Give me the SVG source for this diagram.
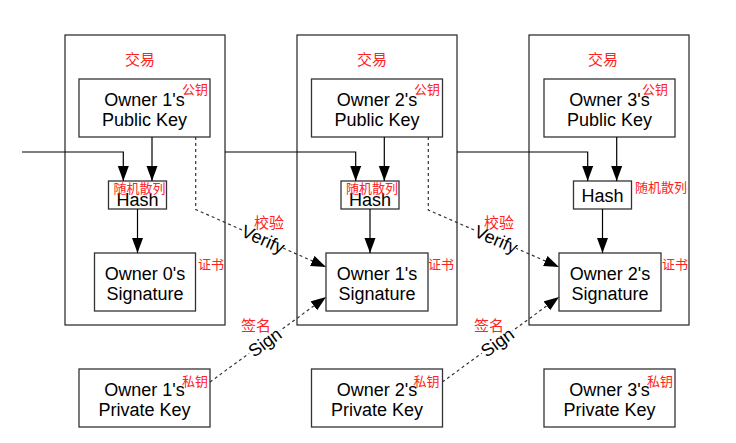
<svg xmlns="http://www.w3.org/2000/svg" width="736" height="443" viewBox="0 0 736 443">
<style>
.tx{fill:#fff;stroke:#333;stroke-width:1.3}
.bx{fill:#fff;stroke:#333;stroke-width:1.3}
.t{font-family:"Liberation Sans",Arial,sans-serif;font-size:18px;fill:#000;text-anchor:middle}
.r{font-family:"Noto Sans CJK SC",sans-serif;fill:#f22}
.s{font-size:13px}
.m{font-size:15px}
.ln{fill:none;stroke:#000;stroke-width:1.2}
.d{fill:none;stroke:#333;stroke-width:1.2;stroke-dasharray:3,3}
</style>
<defs>
<marker id="ah" markerUnits="userSpaceOnUse" markerWidth="16" markerHeight="12" refX="15" refY="5.5" orient="auto">
<path d="M0,0 L15,5.5 L0,11 z" fill="#000"/>
</marker>
</defs>
<rect width="736" height="443" fill="#fff"/>

<g id="tx1"><rect class="tx" x="65" y="35" width="160" height="290"/><text class="r m" x="140" y="65" text-anchor="middle">交易</text></g>
<g id="tx2"><rect class="tx" x="297" y="35" width="160" height="290"/><text class="r m" x="372" y="65" text-anchor="middle">交易</text></g>
<g id="tx3"><rect class="tx" x="529" y="35" width="160" height="290"/><text class="r m" x="603" y="65" text-anchor="middle">交易</text></g>

<g id="pub1"><rect class="bx" x="79" y="79" width="131" height="58"/><text class="t" x="144.5" y="106">Owner 1's</text><text class="t" x="144.5" y="126">Public Key</text><text class="r s" x="208" y="94" text-anchor="end">公钥</text></g>
<g id="pub2"><rect class="bx" x="311.5" y="79" width="131" height="58"/><text class="t" x="377" y="106">Owner 2's</text><text class="t" x="377" y="126">Public Key</text><text class="r s" x="440" y="94" text-anchor="end">公钥</text></g>
<g id="pub3"><rect class="bx" x="544" y="79" width="131" height="58"/><text class="t" x="609.5" y="106">Owner 3's</text><text class="t" x="609.5" y="126">Public Key</text><text class="r s" x="668" y="94" text-anchor="end">公钥</text></g>

<g id="hash1"><rect class="bx" x="108.5" y="181" width="58" height="28"/><text class="t" x="137.5" y="206">Hash</text><text class="r s" x="139.5" y="193" text-anchor="middle">随机散列</text></g>
<g id="hash2"><rect class="bx" x="341" y="181" width="58" height="28"/><text class="t" x="370" y="206">Hash</text><text class="r s" x="372" y="193" text-anchor="middle">随机散列</text></g>
<g id="hash3"><rect class="bx" x="573.5" y="181" width="58" height="28"/><text class="t" x="602.5" y="202">Hash</text><text class="r s" x="635" y="192">随机散列</text></g>

<g id="sig0"><rect class="bx" x="94.5" y="253" width="101" height="58"/><text class="t" x="145" y="280">Owner 0's</text><text class="t" x="145" y="300">Signature</text><text class="r s" x="198" y="269">证书</text></g>
<g id="sig1"><rect class="bx" x="326" y="253" width="102" height="58"/><text class="t" x="377" y="280">Owner 1's</text><text class="t" x="377" y="300">Signature</text><text class="r s" x="428" y="269">证书</text></g>
<g id="sig2"><rect class="bx" x="559" y="253" width="102" height="58"/><text class="t" x="610" y="280">Owner 2's</text><text class="t" x="610" y="300">Signature</text><text class="r s" x="662" y="269">证书</text></g>

<g id="priv1"><rect class="bx" x="79" y="369" width="131" height="58"/><text class="t" x="144.5" y="396">Owner 1's</text><text class="t" x="144.5" y="416">Private Key</text><text class="r s" x="208" y="386" text-anchor="end">私钥</text></g>
<g id="priv2"><rect class="bx" x="311.5" y="369" width="131" height="58"/><text class="t" x="377" y="396">Owner 2's</text><text class="t" x="377" y="416">Private Key</text><text class="r s" x="439.5" y="386" text-anchor="end">私钥</text></g>
<g id="priv3"><rect class="bx" x="544" y="369" width="131" height="58"/><text class="t" x="609.5" y="396">Owner 3's</text><text class="t" x="609.5" y="416">Private Key</text><text class="r s" x="673" y="386" text-anchor="end">私钥</text></g>

<g id="connectors">
<path class="ln" d="M22,152 H123.3 V181" marker-end="url(#ah)"/>
<path class="ln" d="M152,137 V181" marker-end="url(#ah)"/>
<path class="ln" d="M137.5,209 V253" marker-end="url(#ah)"/>

<path class="ln" d="M225,152 H355.7 V181" marker-end="url(#ah)"/>
<path class="ln" d="M384.3,137 V181" marker-end="url(#ah)"/>
<path class="ln" d="M370,209 V253" marker-end="url(#ah)"/>

<path class="ln" d="M457,152 H587.7 V181" marker-end="url(#ah)"/>
<path class="ln" d="M616.7,137 V181" marker-end="url(#ah)"/>
<path class="ln" d="M602.5,209 V253" marker-end="url(#ah)"/>

<path class="d" d="M195.7,137 V209.5 L326,267" marker-end="url(#ah)"/>
<path class="d" d="M428.3,137 V210 L559,267" marker-end="url(#ah)"/>
<path class="d" d="M210,382 L326,297" marker-end="url(#ah)"/>
<path class="d" d="M442.3,382 L559,297" marker-end="url(#ah)"/>

<g transform="translate(263,239.5) rotate(24)"><rect x="-22" y="-9" width="44" height="18" fill="#fff"/><text class="t" x="0" y="6">Verify</text></g>
<g transform="translate(496,239.5) rotate(23.5)"><rect x="-22" y="-9" width="44" height="18" fill="#fff"/><text class="t" x="0" y="6">Verify</text></g>
<g transform="translate(265,342.5) rotate(-36)"><rect x="-19" y="-9" width="38" height="18" fill="#fff"/><text class="t" x="0" y="6">Sign</text></g>
<g transform="translate(497.5,342.5) rotate(-36)"><rect x="-19" y="-9" width="38" height="18" fill="#fff"/><text class="t" x="0" y="6">Sign</text></g>
<text class="r m" x="269" y="228" text-anchor="middle">校验</text>
<text class="r m" x="499" y="228" text-anchor="middle">校验</text>
<text class="r m" x="256" y="331" text-anchor="middle">签名</text>
<text class="r m" x="489" y="331" text-anchor="middle">签名</text>
</g>
</svg>
